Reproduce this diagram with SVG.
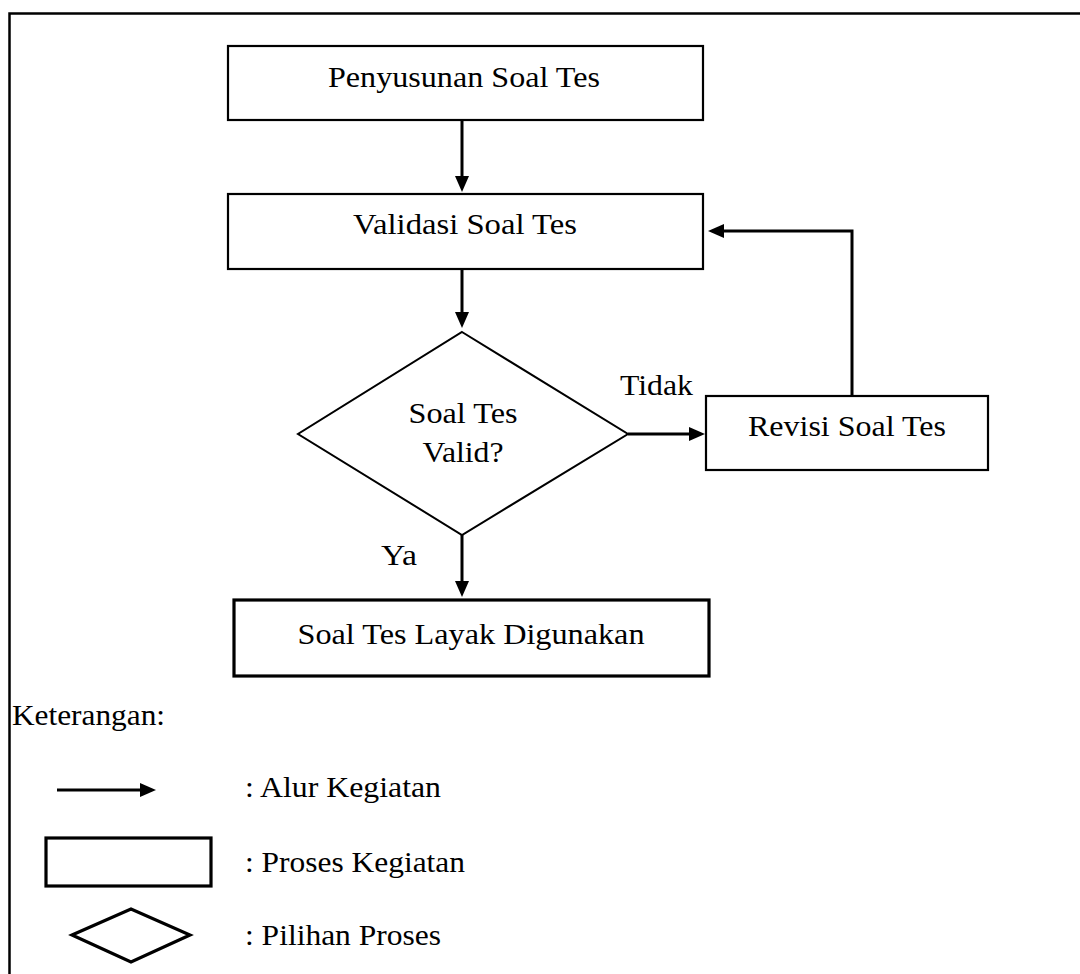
<svg xmlns="http://www.w3.org/2000/svg" width="1080" height="974" viewBox="0 0 1080 974">
  <style>
    text { font-family: "Liberation Serif", "DejaVu Serif", serif; font-size: 30px; fill: #000; }
    .c { text-anchor: middle; }
    .box { fill: #fff; stroke: #000; stroke-width: 2.2; }
    .bold { fill: #fff; stroke: #000; stroke-width: 3.2; }
    .dia { fill: #fff; stroke: #000; stroke-width: 2; }
    .flow { fill: none; stroke: #000; stroke-width: 3; }
  </style>
  <defs>
    <!-- solid triangular head; tip sits 6px past the line end -->
    <marker id="arrow" viewBox="0 0 16 14" refX="10" refY="7" markerWidth="16" markerHeight="14" markerUnits="userSpaceOnUse" orient="auto">
      <path d="M0,0 L16,7 L0,14 Z" fill="#000"/>
    </marker>
  </defs>

  <rect width="1080" height="974" fill="#fff"/>
  <!-- outer frame -->
  <path d="M9.5,985 L9.5,13.5 L1090,13.5" fill="none" stroke="#000" stroke-width="2.5"/>

  <g id="penyusunan">
    <rect class="box" x="228" y="46" width="475" height="74"/>
    <text class="c" x="464" y="87" textLength="272" lengthAdjust="spacingAndGlyphs">Penyusunan Soal Tes</text>
  </g>
  <g id="validasi">
    <rect class="box" x="228" y="194" width="475" height="75"/>
    <text class="c" x="465" y="234" textLength="224" lengthAdjust="spacingAndGlyphs">Validasi Soal Tes</text>
  </g>
  <g id="keputusan">
    <polygon class="dia" points="462,332 628,434 462,535 298,434"/>
    <text class="c" x="463" y="423" textLength="109" lengthAdjust="spacingAndGlyphs">Soal Tes</text>
    <text class="c" x="463" y="462" textLength="81" lengthAdjust="spacingAndGlyphs">Valid?</text>
  </g>
  <g id="revisi">
    <rect class="box" x="706" y="396" width="282" height="74"/>
    <text class="c" x="847" y="436" textLength="198" lengthAdjust="spacingAndGlyphs">Revisi Soal Tes</text>
  </g>
  <g id="layak">
    <rect class="bold" x="234" y="600" width="475" height="76"/>
    <text class="c" x="471" y="644" textLength="347" lengthAdjust="spacingAndGlyphs">Soal Tes Layak Digunakan</text>
  </g>

  <g id="connectors">
    <line class="flow" x1="462" y1="120" x2="462" y2="186" marker-end="url(#arrow)"/>
    <line class="flow" x1="462" y1="269" x2="462" y2="322" marker-end="url(#arrow)"/>
    <line class="flow" x1="628" y1="434" x2="699" y2="434" marker-end="url(#arrow)"/>
    <polyline class="flow" points="852,396 852,231 714,231" marker-end="url(#arrow)"/>
    <line class="flow" x1="462" y1="535" x2="462" y2="591" marker-end="url(#arrow)"/>
    <text x="620" y="395" textLength="73" lengthAdjust="spacingAndGlyphs">Tidak</text>
    <text x="381" y="565" textLength="36" lengthAdjust="spacingAndGlyphs">Ya</text>
  </g>

  <g id="keterangan">
    <text x="12" y="725" textLength="153" lengthAdjust="spacingAndGlyphs">Keterangan:</text>
    <line class="flow" x1="57" y1="790" x2="150" y2="790" marker-end="url(#arrow)"/>
    <rect class="bold" x="46" y="838" width="165" height="48"/>
    <polygon points="72,935 131,909 190,935 131,962" fill="#fff" stroke="#000" stroke-width="3.2"/>
    <text x="245" y="797" textLength="196" lengthAdjust="spacingAndGlyphs">: Alur Kegiatan</text>
    <text x="245" y="872" textLength="220" lengthAdjust="spacingAndGlyphs">: Proses Kegiatan</text>
    <text x="245" y="945" textLength="196" lengthAdjust="spacingAndGlyphs">: Pilihan Proses</text>
  </g>
</svg>
